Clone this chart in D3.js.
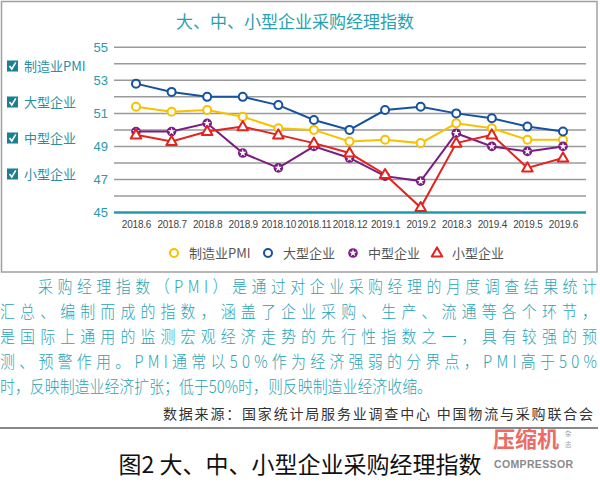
<!DOCTYPE html>
<html><head><meta charset="utf-8">
<script src="https://cdn.jsdelivr.net/npm/d3@7"></script>
<style>body{margin:0;background:#fff}svg{display:block}</style>
</head><body>
<svg id="c" width="600" height="487"></svg>
<script>
const categories = ["2018.6","2018.7","2018.8","2018.9","2018.10","2018.11","2018.12","2019.1","2019.2","2018.3","2019.4","2019.5","2019.6"];
const pmi    = [51.4,51.1,51.2,50.8,50.1,50.0,49.3,49.4,49.2,50.4,50.1,49.4,49.4];
const large  = [52.8,52.3,52.0,52.0,51.5,50.6,50.0,51.2,51.4,51.0,50.7,50.2,49.9];
const medium = [49.9,49.9,50.4,48.6,47.7,49.0,48.3,47.2,46.9,49.8,49.0,48.7,49.0];
const small  = [49.7,49.3,49.9,50.2,49.7,49.2,48.6,47.3,45.3,49.2,49.7,47.7,48.3];
const seriesNames = ["制造业PMI","大型企业","中型企业","小型企业"];
const yTickLabels = [45,47,49,51,53,55];
const paragraph = [
  "采购经理指数（PMI）是通过对企业采购经理的月度调查结果统计",
  "汇总、编制而成的指数，涵盖了企业采购、生产、流通等各个环节，",
  "是国际上通用的监测宏观经济走势的先行性指数之一，具有较强的预",
  "测、预警作用。PMI通常以50%作为经济强弱的分界点，PMI高于50%",
  "时，反映制造业经济扩张；低于50%时，则反映制造业经济收缩。"
];
const sourceText = "数据来源：国家统计局服务业调查中心  中国物流与采购联合会";
const caption = "图2 大、中、小型企业采购经理指数";

const colors = ["#f6c200","#17529e","#7b1d80","#e3231d"];
const data = [pmi, large, medium, small];

const svg = d3.select("#c");
const font = "'Noto Sans CJK SC','Noto Sans',sans-serif";

// frame
svg.append("rect").attr("x",1.5).attr("y",1.5).attr("width",595.5).attr("height",270.5)
  .attr("fill","none").attr("stroke","#a0a0a0").attr("stroke-width",1.5);

// title
svg.append("text").attr("x",295).attr("y",28).attr("text-anchor","middle")
  .attr("font-family",font).attr("font-size",17).attr("fill","#2a9fae").text("大、中、小型企业采购经理指数");

const x = d3.scalePoint().domain(categories).range([136,563]);
const y = d3.scaleLinear().domain([45,55]).range([212.5,47.3]);

// gridlines
const grid = d3.range(46,56);
svg.append("g").selectAll("line").data(grid).join("line")
  .attr("x1",114).attr("x2",586).attr("y1",d=>y(d)).attr("y2",d=>y(d))
  .attr("stroke","#9a9a9a").attr("stroke-width",1.5);
svg.append("line").attr("x1",114).attr("x2",586).attr("y1",y(45)).attr("y2",y(45))
  .attr("stroke","#1f9bab").attr("stroke-width",2.5);

// y axis labels
const yAxis = d3.axisLeft(y).tickValues(yTickLabels).tickSize(0).tickPadding(6).tickFormat(d3.format("d"));
const ya = svg.append("g").attr("transform","translate(114,0)").call(yAxis);
ya.select(".domain").remove();
ya.selectAll("text").attr("font-family","'Liberation Sans',Arial,sans-serif").attr("font-size",13).attr("fill","#2a9aa8");

// x axis labels
const xAxis = d3.axisBottom(x).tickSize(0).tickPadding(8);
const xa = svg.append("g").attr("transform",`translate(0,${y(45)})`).call(xAxis);
xa.select(".domain").remove();
xa.selectAll("text").attr("font-family","'Liberation Sans',Arial,sans-serif").attr("font-size",10)
  .attr("fill","#444").attr("letter-spacing",-0.2);

// lines
const line = d3.line().x((d,i)=>x(categories[i])).y(d=>y(d));
data.forEach((s,k)=>{
  svg.append("path").datum(s).attr("d",line).attr("fill","none")
    .attr("stroke",colors[k]).attr("stroke-width",2);
});

function marker(g, k, cx, cy){
  if(k===0 || k===1){
    g.append("circle").attr("cx",cx).attr("cy",cy).attr("r",4).attr("fill","#fff")
      .attr("stroke",colors[k]).attr("stroke-width",2);
  } else if(k===2){
    g.append("circle").attr("cx",cx).attr("cy",cy).attr("r",4.8).attr("fill",colors[k]);
    g.append("path").attr("d",d3.symbol(d3.symbolStar,18)()).attr("transform",`translate(${cx},${cy})`).attr("fill","#fff");
  } else {
    g.append("path").attr("d",d3.symbol(d3.symbolTriangle,48)()).attr("transform",`translate(${cx},${cy+0.5})`)
      .attr("fill","#fff").attr("stroke",colors[k]).attr("stroke-width",2).attr("stroke-linejoin","round");
  }
}
data.forEach((s,k)=>{
  const g = svg.append("g");
  s.forEach((v,i)=>marker(g,k,x(categories[i]),y(v)));
});

// left legend (checkboxes)
const ly = [66,102,138,174];
seriesNames.forEach((n,i)=>{
  const g = svg.append("g").attr("transform",`translate(7,${ly[i]-5.5})`);
  g.append("rect").attr("width",11).attr("height",11).attr("fill","#1c7f8f");
  g.append("path").attr("d","M2.5,5.5 L4.8,8.5 L8.8,1.8").attr("fill","none").attr("stroke","#fff").attr("stroke-width",1.6);
  svg.append("text").attr("x",24).attr("y",ly[i]+5).attr("font-family",font).attr("font-size",13)
    .attr("fill","#2a8fa0").text(n);
});

// bottom legend
const bx = [174,268,353,437];
seriesNames.forEach((n,k)=>{
  const g = svg.append("g");
  marker(g,k,bx[k],253);
  svg.append("text").attr("x",bx[k]+15).attr("y",258).attr("font-family",font).attr("font-size",13)
    .attr("fill","#555").text(n);
});

// paragraph (condensed glyphs, justified lines)
const py = [293,318,343,368,393];
const sx = 0.88;
paragraph.forEach((t,i)=>{
  const x0 = i===0 ? 38 : 0;
  const g = svg.append("g").attr("transform",`translate(${x0},${py[i]}) scale(${sx},1)`);
  const tx = g.append("text").attr("x",0).attr("y",0).attr("font-family",font).attr("font-size",17)
    .attr("font-weight",300).attr("fill","#2aa3b3").text(t);
  if(i<4) tx.attr("textLength",(597-x0)/sx).attr("lengthAdjust","spacing");
  else tx.attr("textLength",432/sx).attr("lengthAdjust","spacingAndGlyphs");
});

// source
svg.append("text").attr("x",163).attr("y",419).attr("font-family",font)
  .attr("font-size",14).attr("fill","#333").attr("textLength",430).attr("lengthAdjust","spacing").text(sourceText);
svg.append("line").attr("x1",0).attr("x2",598).attr("y1",428).attr("y2",428).attr("stroke","#888").attr("stroke-width",2);

// watermark
svg.append("text").attr("x",493).attr("y",447).attr("font-family",font).attr("font-size",22).attr("font-weight","bold")
  .attr("fill","#e8534b").attr("opacity",0.85).attr("textLength",66).text("压缩机");
svg.append("text").attr("x",565).attr("y",436).attr("font-family",font).attr("font-size",6.5).attr("fill","#999").text("杂");
svg.append("text").attr("x",565).attr("y",447).attr("font-family",font).attr("font-size",6.5).attr("fill","#999").text("志");
svg.append("text").attr("x",494).attr("y",468).attr("font-family","'Liberation Sans',Arial,sans-serif").attr("font-size",10.5)
  .attr("font-weight","bold").attr("fill","#8a8a8a").attr("textLength",79).text("COMPRESSOR");

// caption
svg.append("text").attr("x",300).attr("y",473).attr("text-anchor","middle").attr("font-family",font)
  .attr("font-size",23).attr("fill","#111").text(caption);
</script>
</body></html>
